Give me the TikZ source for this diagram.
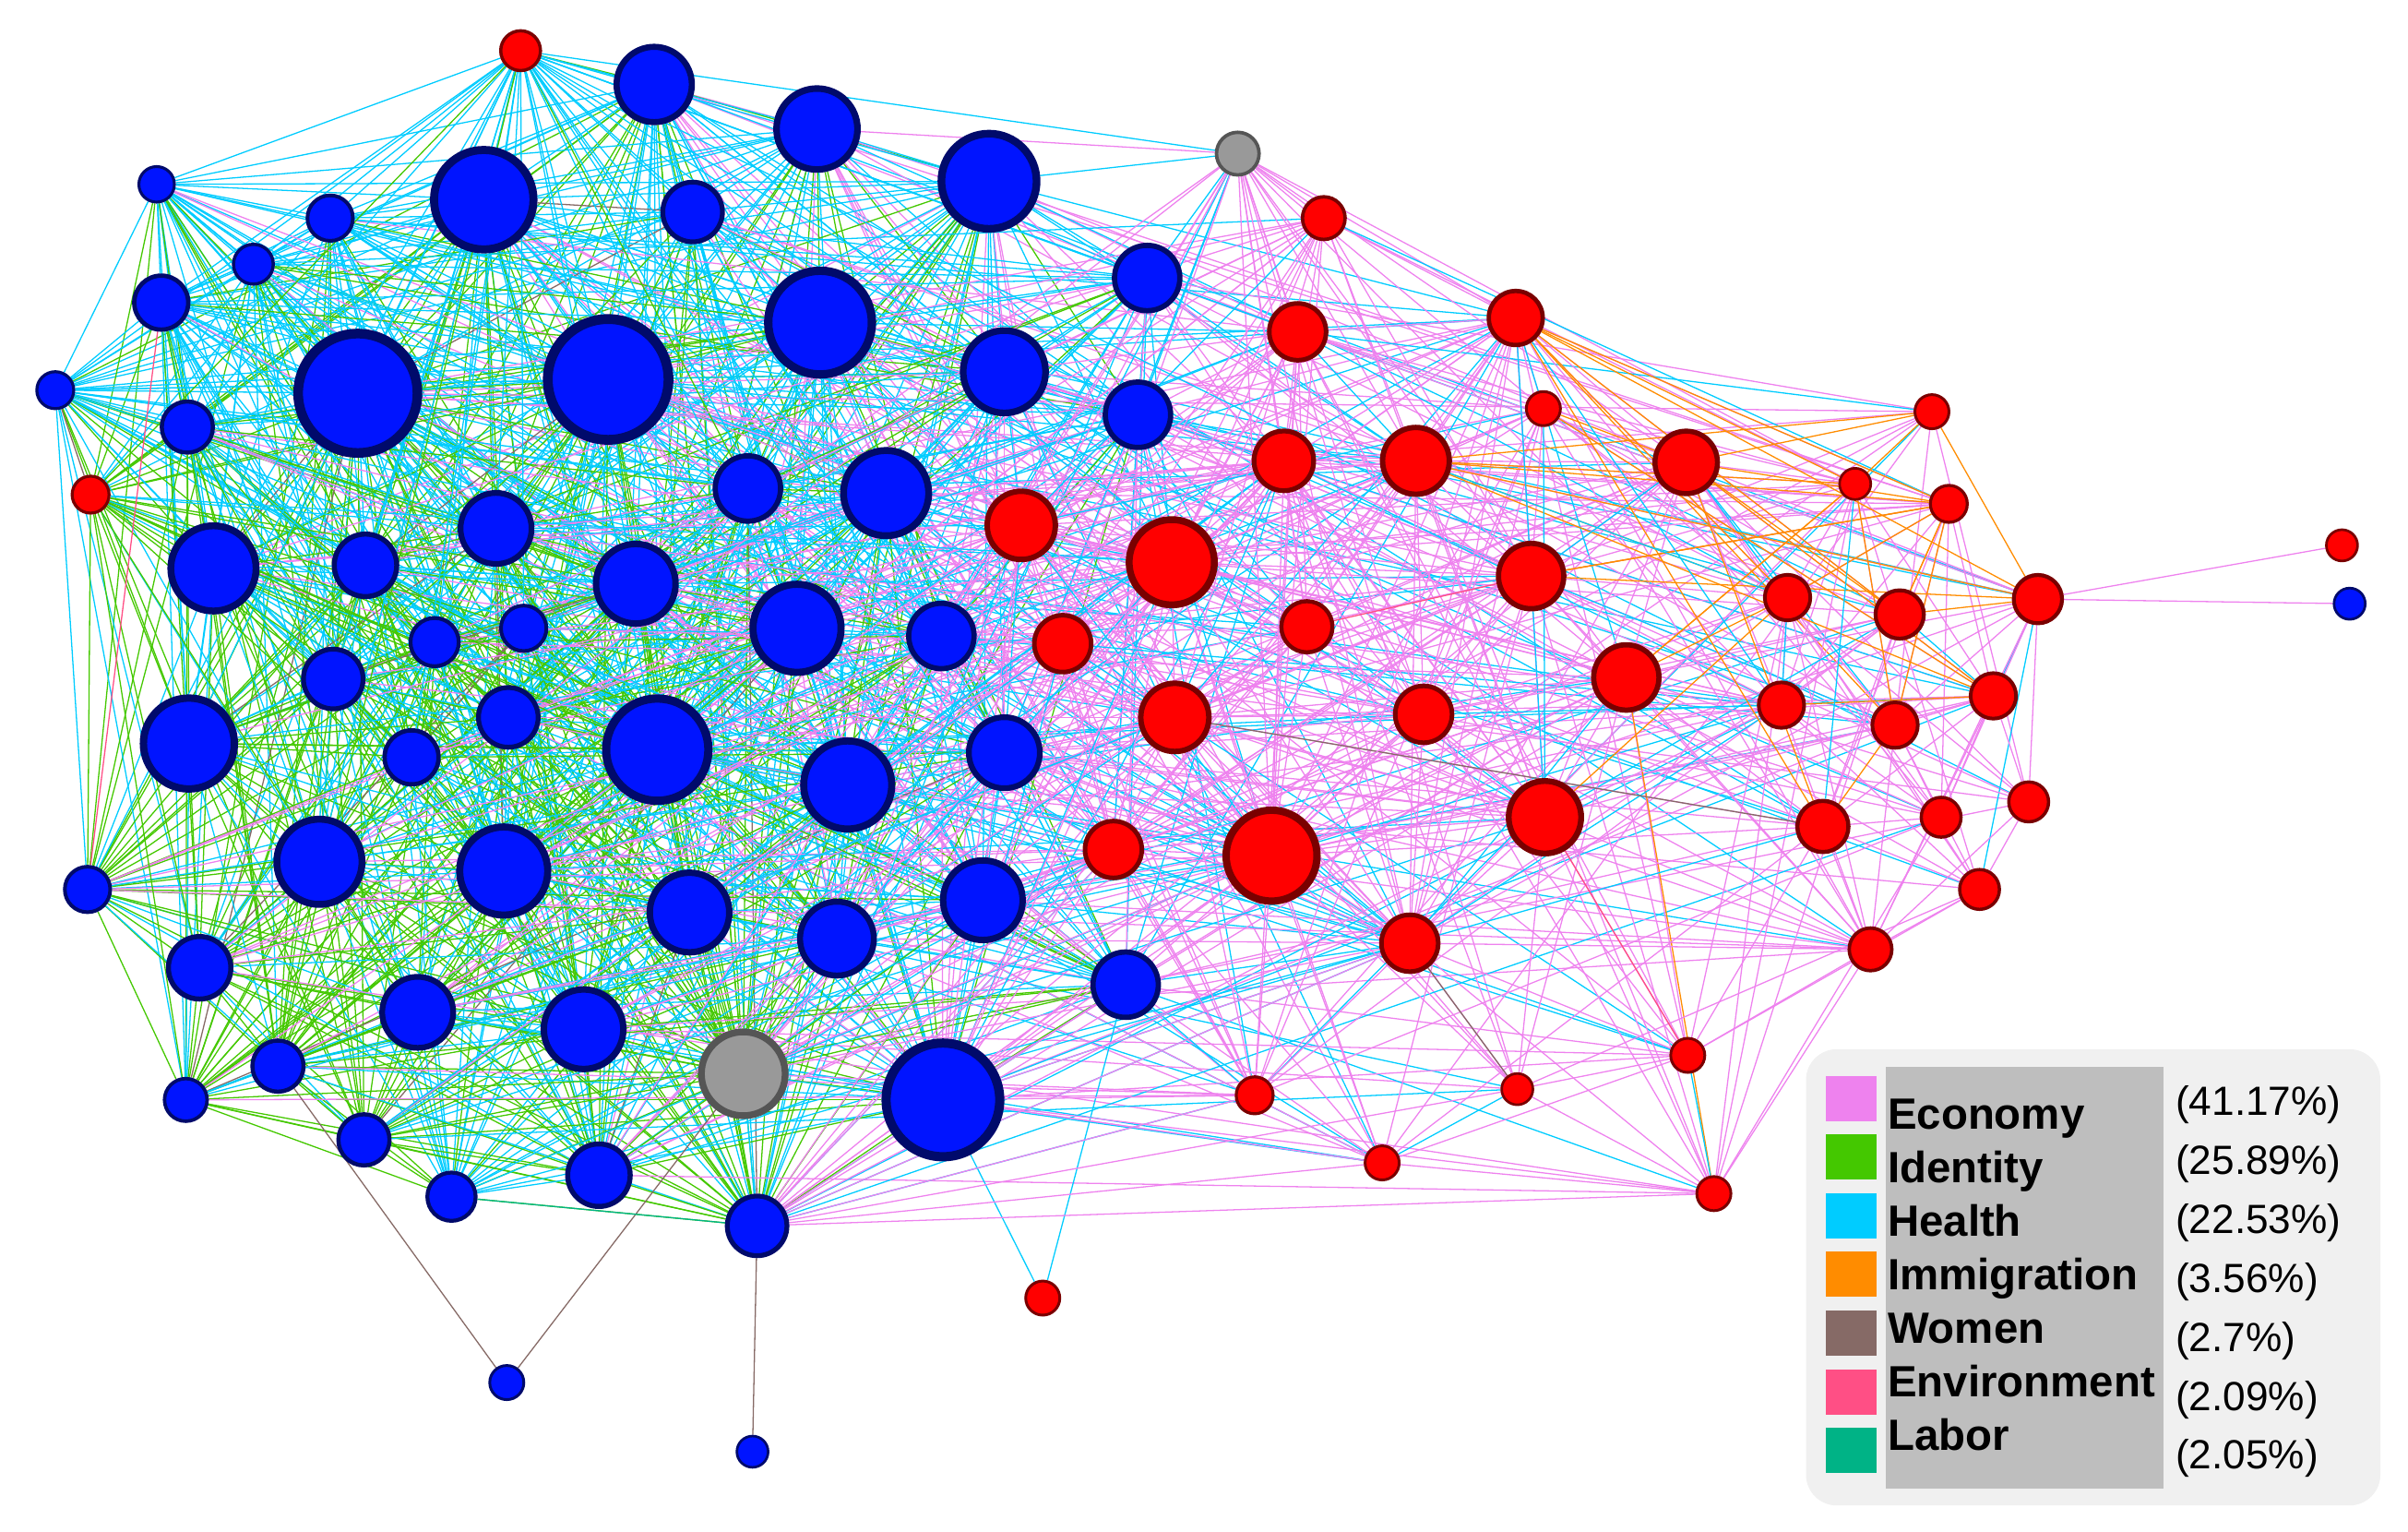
\documentclass[tikz,border=0pt]{standalone}
\usepackage{fontspec}
\setmainfont{Liberation Sans}
\usetikzlibrary{backgrounds}
\definecolor{cEc}{HTML}{EE82EE}
\definecolor{cId}{HTML}{44C800}
\definecolor{cHe}{HTML}{00CCFF}
\definecolor{cIm}{HTML}{FF8C00}
\definecolor{cWo}{HTML}{866A66}
\definecolor{cEn}{HTML}{FF4F85}
\definecolor{cLa}{HTML}{00B386}
\definecolor{bFill}{HTML}{0014FF}
\definecolor{bLine}{HTML}{000A6B}
\definecolor{rFill}{HTML}{FF0000}
\definecolor{rLine}{HTML}{7A0000}
\definecolor{gFill}{HTML}{999999}
\definecolor{gLine}{HTML}{555555}
\definecolor{legBg}{HTML}{F0F0F0}
\definecolor{legIn}{HTML}{BEBEBE}
\tikzset{
  nd0/.style={circle, fill=bFill, draw=bLine, inner sep=0pt},
  nd1/.style={circle, fill=rFill, draw=rLine, inner sep=0pt},
  nd2/.style={circle, fill=gFill, draw=gLine, inner sep=0pt},
  edge/.style={line width=0.22pt},
  swatch/.style={rectangle, inner sep=0pt, minimum width=0.33cm, minimum height=0.295cm},
  leglab/.style={anchor=base west, inner sep=0pt, font=\fontsize{8.1pt}{8.1pt}\selectfont\bfseries},
  legpct/.style={anchor=base west, inner sep=0pt, font=\fontsize{7.55pt}{7.55pt}\selectfont},
}
\begin{document}
\begin{tikzpicture}[x=0.01cm,y=-0.01cm]
\useasboundingbox (0,0) rectangle (1568,997);
% ---------- nodes: index/x/y/diameter/style/group/colour bias/weight ----------
\foreach \ni/\nx/\ny/\nd/\ns/\ne/\nb/\nw in {
0/426/55/53/0/0/0/53, 1/532/84/57/0/0/0/57, 2/644/118/67/0/0/0/67, 3/315/130/70/0/0/0/70, 4/451/138/42/0/0/0/42,
5/215/142/32/0/0/1/50, 6/102/120/25/0/0/1/55, 7/165/172/28/0/0/1/45, 8/105/197/38/0/0/1/50, 9/534/210/73/0/0/0/73,
10/747/181/46/0/0/0/46, 11/233/256/84/0/0/0/84, 12/396/247/85/0/0/0/85, 13/654/242/58/0/0/0/58, 14/36/254/26/0/0/1/55,
15/122/278/36/0/0/0/45, 16/741/270/46/0/0/0/46, 17/487/318/46/0/0/0/46, 18/577/321/60/0/0/0/60, 19/323/344/50/0/0/0/50,
20/139/370/60/0/0/0/60, 21/238/368/44/0/0/0/44, 22/414/380/56/0/0/0/56, 23/519/409/62/0/0/0/62, 24/613/414/46/0/0/0/46,
25/341/409/32/0/0/0/36, 26/283/418/34/0/0/0/36, 27/217/442/42/0/0/0/42, 28/331/467/42/0/0/0/42, 29/123/484/64/0/0/0/64,
30/428/488/72/0/0/0/72, 31/268/493/38/0/0/0/38, 32/552/511/62/0/0/0/62, 33/654/490/50/0/0/0/50, 34/208/561/60/0/0/0/60,
35/328/567/62/0/0/0/62, 36/449/594/56/0/0/0/56, 37/545/611/52/0/0/0/52, 38/640/586/56/0/0/0/56, 39/57/579/32/0/0/2/70,
40/130/630/44/0/0/2/55, 41/272/659/50/0/0/0/50, 42/380/670/56/0/0/0/56, 43/733/641/46/0/0/0/50, 44/181/694/36/0/0/2/55,
45/121/716/30/0/0/2/60, 46/237/742/36/0/0/2/50, 47/390/765/44/0/0/0/55, 48/614/716/80/0/0/0/80, 49/294/779/34/0/0/1/45,
50/493/798/42/0/0/2/90, 51/330/900/24/0/9/0/24, 52/490/945/22/0/9/0/22, 53/1530/393/22/0/9/0/22, 54/484/699/59/2/0/2/90,
55/806/100/30/2/1/0/45, 56/339/33/28/1/0/1/70, 57/59/322/26/1/0/2/55, 58/665/342/48/1/1/0/48, 59/763/366/60/1/1/0/60,
60/692/419/40/1/1/0/40, 61/765/467/48/1/1/0/48, 62/725/553/40/1/1/0/40, 63/828/557/64/1/1/0/64, 64/862/142/30/1/1/0/34,
65/845/216/40/1/1/0/40, 66/987/207/38/1/1/0/50, 67/836/300/42/1/1/0/42, 68/922/300/47/1/1/0/47, 69/1005/266/24/1/1/0/30,
70/1098/301/44/1/1/0/44, 71/1258/268/24/1/1/0/30, 72/1208/315/22/1/1/0/28, 73/1269/328/26/1/1/0/32, 74/997/375/46/1/1/0/46,
75/851/408/36/1/1/0/36, 76/1164/389/32/1/1/0/34, 77/1237/400/34/1/1/0/34, 78/1327/390/34/1/1/0/36, 79/1525/355/22/1/9/0/22,
80/1059/441/46/1/1/0/46, 81/927/465/40/1/1/0/40, 82/1160/459/32/1/1/0/32, 83/1234/472/32/1/1/0/32, 84/1298/453/32/1/1/0/32,
85/1006/532/51/1/1/0/51, 86/1187/538/36/1/1/0/36, 87/1264/532/28/1/1/0/30, 88/1321/522/28/1/1/0/30, 89/918/614/40/1/1/1/60,
90/1218/618/30/1/1/0/34, 91/1289/579/28/1/1/0/30, 92/817/713/26/1/1/0/32, 93/988/709/22/1/1/0/26, 94/1099/687/24/1/1/0/28,
95/900/757/24/1/1/0/28, 96/1116/777/24/1/1/0/30, 97/679/845/24/1/9/0/24}{
  \node[nd\ns, line width={0.075*\nd*0.01cm}, minimum size={0.925*\nd*0.01cm}] (n\ni) at (\nx,\ny) {};
  \expandafter\xdef\csname NX\ni\endcsname{\nx}
  \expandafter\xdef\csname NY\ni\endcsname{\ny}
  \expandafter\xdef\csname ND\ni\endcsname{\nw}
  \expandafter\xdef\csname NE\ni\endcsname{\ne}
  \expandafter\xdef\csname NB\ni\endcsname{\nb}
}
% ---------- edges ----------
\pgfmathsetseed{11}
\begin{pgfonlayer}{background}
\foreach \i in {0,...,96}{
  \pgfmathtruncatemacro\js{\i+1}
  \foreach \j in {\js,...,97}{
    \edef\Ea{\csname NE\i\endcsname}\edef\Eb{\csname NE\j\endcsname}%
    \ifnum\Ea<9 \ifnum\Eb<9
      \edef\Xa{\csname NX\i\endcsname}\edef\Xb{\csname NX\j\endcsname}%
      \edef\Ya{\csname NY\i\endcsname}\edef\Yb{\csname NY\j\endcsname}%
      \edef\Da{\csname ND\i\endcsname}\edef\Db{\csname ND\j\endcsname}%
      \edef\Ba{\csname NB\i\endcsname}\edef\Bb{\csname NB\j\endcsname}%
      \pgfmathtruncatemacro\pair{\Ea+\Eb}%
      \ifcase\pair \def\kk{1.45}\def\LL{400}\or \def\kk{1.1}\def\LL{380}\or \def\kk{1.9}\def\LL{300}\fi
      \pgfmathsetmacro\dist{100*veclen((\Xa-\Xb)/100,(\Ya-\Yb)/100)}%
      \pgfmathsetmacro\pp{\kk*\Da*\Db/2500*exp(-\dist/\LL)}%
      \pgfmathsetmacro\uu{rnd}%
      \ifdim\uu pt<\pp pt
        \pgfmathsetmacro\rc{rnd}%
        \pgfmathsetmacro\xM{max(\Xa,\Xb)}%
        \pgfmathsetmacro\xm{min(\Xa,\Xb)}%
        \pgfmathsetmacro\yM{max(\Ya,\Yb)}%
        \pgfmathtruncatemacro\bias{max(\Ba,\Bb)}%
        \ifcase\pair
          \ifcase\bias
            \ifdim\xM pt<470pt
              \ifdim\rc pt<0.5pt \def\ecol{cId}\else\ifdim\rc pt<0.95pt \def\ecol{cHe}\else\def\ecol{cWo}\fi\fi
            \else
              \ifdim\rc pt<0.6pt \def\ecol{cHe}\else\ifdim\rc pt<0.85pt \def\ecol{cId}\else\def\ecol{cEc}\fi\fi
            \fi
          \or
            \ifdim\rc pt<0.85pt \def\ecol{cHe}\else\def\ecol{cId}\fi
          \or
            \ifdim\rc pt<0.72pt \def\ecol{cId}\else\ifdim\rc pt<0.94pt \def\ecol{cHe}\else\def\ecol{cWo}\fi\fi
          \fi
        \or
          \ifnum\bias=1
            \ifdim\rc pt<0.25pt \def\ecol{cEc}\else\def\ecol{cHe}\fi
          \else
            \ifdim\rc pt<0.64pt \def\ecol{cEc}\else\def\ecol{cHe}\fi
          \fi
        \or
          \ifdim\xm pt>940pt
            \ifdim\yM pt<480pt
              \ifdim\rc pt<0.76pt \def\ecol{cEc}\else\ifdim\rc pt<0.9pt \def\ecol{cIm}\else\def\ecol{cHe}\fi\fi
            \else
              \ifdim\rc pt<0.9pt \def\ecol{cEc}\else\ifdim\rc pt<0.94pt \def\ecol{cIm}\else\def\ecol{cHe}\fi\fi
            \fi
          \else
            \ifdim\rc pt<0.86pt \def\ecol{cEc}\else\ifdim\rc pt<0.98pt \def\ecol{cHe}\else\def\ecol{cEn}\fi\fi
          \fi
        \fi
        \draw[edge,\ecol] (n\i) -- (n\j);
      \fi
    \fi\fi
  }
}
% immigration edges in the upper right
\foreach \a/\b in {66/73, 66/78, 66/76, 66/77, 66/86, 68/71, 68/72, 68/73, 68/78, 68/76, 68/84,
  70/71, 70/73, 70/84, 70/77, 70/86, 71/72, 71/78, 73/76, 73/77, 73/83, 73/74, 72/80,
  76/85, 74/78, 69/84, 72/83, 74/73, 80/72}{\draw[edge,cIm] (n\a) -- (n\b);}
% health edges in the upper right
\foreach \a/\b in {69/85, 72/86, 76/82, 66/82, 66/74, 70/74, 68/76}{\draw[edge,cHe] (n\a) -- (n\b);}
% single edges
\draw[edge,cWo] (n51) -- (n44);
\draw[edge,cWo] (n51) -- (n54);
\draw[edge,cWo] (n52) -- (n50);
\draw[edge,cHe] (n97) -- (n48);
\draw[edge,cHe] (n97) -- (n43);
\draw[edge,cEc] (n79) -- (n78);
\draw[edge,cEc] (n53) -- (n78);
\draw[edge,cLa] (n49) -- (n50);
\draw[edge,cWo] (n89) -- (n93);
\draw[edge,cEn] (n85) -- (n94);
\draw[edge,cWo] (n61) -- (n86);
\draw[edge,cEn] (n8) -- (n39);
\foreach \t in {92,95,96,93,89,63,62,43,85}{\draw[edge,cEc] (n50) -- (n\t);}
\foreach \t in {92,95,96,89,81}{\draw[edge,cEc] (n48) -- (n\t);}
\end{pgfonlayer}
% ---------- legend ----------
\fill[legBg, rounded corners=0.2cm] (1176,683) rectangle (1550,980);
\fill[legIn] (1228,694.5) rectangle (1409,969);
\foreach \k/\col/\lab/\pct in {0/cEc/Economy/41.17, 1/cId/Identity/25.89, 2/cHe/Health/22.53,
  3/cIm/Immigration/3.56, 4/cWo/Women/2.7, 5/cEn/Environment/2.09, 6/cLa/Labor/2.05}{
  \node[swatch, fill=\col] (s\k) at (1205.5,{715+38.2*\k}) {};
  \node[leglab] (t\k) at (1228.5,{735+34.9*\k}) {\lab};
  \node[legpct] (p\k) at (1416,{726+38.4*\k}) {(\pct\%)};
}
\end{tikzpicture}
\end{document}
